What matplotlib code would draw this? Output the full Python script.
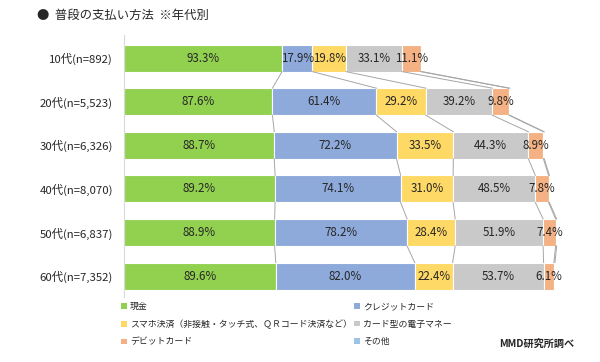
import numpy as np
import matplotlib as mpl
mpl.use('Agg')
import matplotlib.pyplot as plt
from matplotlib.patches import Patch

plt.rcParams['font.family'] = ['Noto Sans CJK JP', 'DejaVu Sans']

# data
ages = ['10代(n=892)', '20代(n=5,523)', '30代(n=6,326)',
        '40代(n=8,070)', '50代(n=6,837)', '60代(n=7,352)']
methods = ['現金', 'クレジットカード',
           'スマホ決済（非接触・タッチ式、ＱＲコード決済など）',
           'カード型の電子マネー', 'デビットカード', 'その他']
cash   = [93.3, 87.6, 88.7, 89.2, 88.9, 89.6]
credit = [17.9, 61.4, 72.2, 74.1, 78.2, 82.0]
smart  = [19.8, 29.2, 33.5, 31.0, 28.4, 22.4]
emoney = [33.1, 39.2, 44.3, 48.5, 51.9, 53.7]
debit  = [11.1, 9.8, 8.9, 7.8, 7.4, 6.1]
other  = [0.6, 0.5, 0.5, 0.5, 0.6, 0.6]

colors = ['#92d050', '#8eaadb', '#ffd966', '#c9c9c9', '#f4b183', '#9dc3e6']
series = np.array([cash, credit, smart, emoney, debit, other])

W, H = 600, 362
fig = plt.figure(figsize=(W/100, H/100), dpi=100)
ax = fig.add_axes([124/W, (H-297)/H, (590-124)/W, (297-35)/H])

y = np.arange(len(ages))
bh = 0.62
left = np.zeros(len(ages))
for k in range(series.shape[0]):
    ax.barh(y, series[k], left=left, height=bh, color=colors[k],
            edgecolor='white', linewidth=0.8, label=methods[k])
    if k < 5:
        for i in range(len(ages)):
            ax.text(left[i] + series[k][i]/2, y[i], '{:.1f}%'.format(series[k][i]),
                    ha='center', va='center', fontsize=8.3, color='#262626')
    left = left + series[k]

# connector lines between bars
cum = np.cumsum(series, axis=0)
for k in range(cum.shape[0]):
    for i in range(len(ages)-1):
        ax.plot([cum[k][i], cum[k][i+1]], [y[i]+bh/2, y[i+1]-bh/2],
                color='#a6a6a6', linewidth=0.7, zorder=1)

ax.set_xlim(0, 466/1.694)
ax.set_ylim(5.48, -0.53)
ax.set_yticks(y)
ax.set_yticklabels(ages, fontsize=8.2, color='#262626')
ax.tick_params(axis='y', length=0, pad=8)
ax.set_xticks([])
for s in ['top', 'right', 'bottom']:
    ax.spines[s].set_visible(False)
ax.spines['left'].set_color('#d9d9d9')
ax.spines['left'].set_linewidth(0.8)

# title
fig.text(37/W, 1-15/H, '●  普段の支払い方法  ※年代別', fontsize=8.9,
         ha='left', va='center', color='#262626')

# legend, two columns
handles = [Patch(facecolor=c, edgecolor='none') for c in colors]
for col, idx in enumerate([[0, 2, 4], [1, 3, 5]]):
    leg = fig.legend([handles[i] for i in idx], [methods[i] for i in idx],
                     loc='upper left',
                     bbox_to_anchor=([115, 348][col]/W, 1-296/H),
                     fontsize=6.4, frameon=False, handlelength=0.6,
                     handleheight=0.6, handletextpad=0.4,
                     labelspacing=0.95, borderpad=0.2)
    for t in leg.get_texts():
        t.set_color('#262626')

fig.text(574/W, 1-344/H, 'MMD研究所調べ', fontsize=7.3, fontweight='bold',
         ha='right', va='center', color='#262626')

plt.savefig('out.png', dpi=100)
